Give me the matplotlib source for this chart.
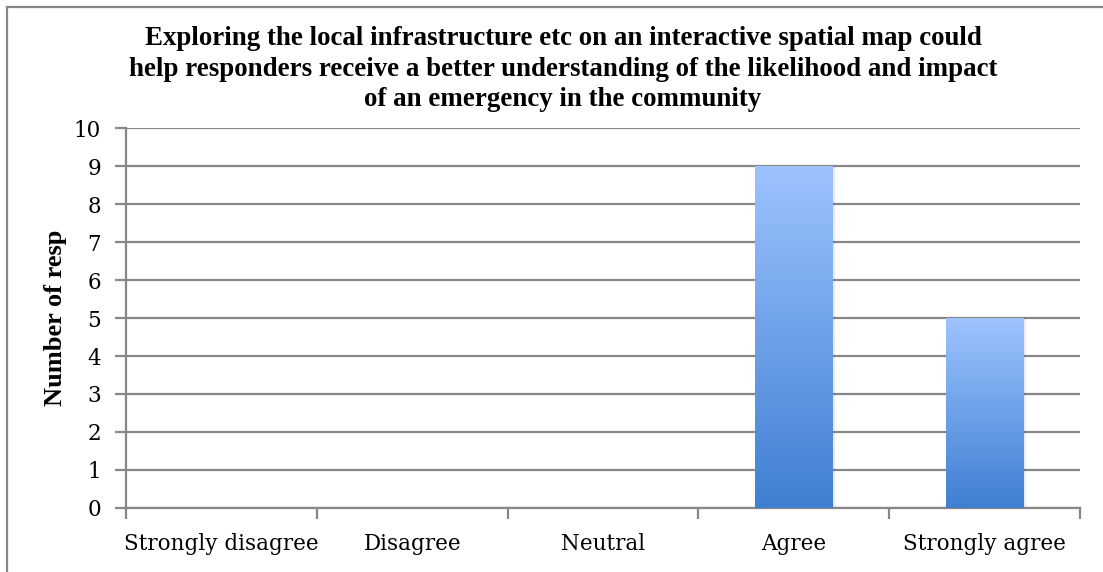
import numpy as np
import matplotlib.pyplot as plt
from matplotlib.colors import LinearSegmentedColormap
from matplotlib.lines import Line2D

categories = ['Strongly disagree', 'Disagree', 'Neutral', 'Agree', 'Strongly agree']
counts = [0, 0, 0, 9, 5]
y_ticks = list(range(0, 11))
title = ('Exploring the local infrastructure etc on an interactive spatial map could\n'
         'help responders receive a better understanding of the likelihood and impact\n'
         'of an emergency in the community')
y_label = 'Number of resp'

plt.rcParams['font.family'] = ['Liberation Serif', 'DejaVu Serif']

fig = plt.figure(figsize=(11.03, 5.72), dpi=100)
ax = fig.add_axes([0.1142, 0.1119, 0.8650, 0.6643])

grid_col = '#878787'
x = np.arange(len(categories))
width = 0.405
tick_font = ['DejaVu Serif']

# gradient fill: light on top, darker at bottom
cmap = LinearSegmentedColormap.from_list('bar', ['#3f7fd2', '#9dc3ff'])
grad = np.linspace(0, 1, 256).reshape(-1, 1)

bars = ax.bar(x, counts, width, color='none', edgecolor='none', zorder=3)
for bar in bars:
    h = bar.get_height()
    if h <= 0:
        continue
    x0 = bar.get_x()
    x1 = x0 + bar.get_width()
    # soft shadow
    ax.bar(bar.get_x() + bar.get_width() / 2 + 0.012, h, bar.get_width(),
           color='#000000', alpha=0.08, zorder=2)
    ax.imshow(grad, cmap=cmap, aspect='auto', origin='lower',
              extent=(x0, x1, 0, h), zorder=3)

ax.set_xlim(-0.5, len(categories) - 0.5)
ax.set_ylim(0, 10)
ax.set_yticks(y_ticks)
ax.set_yticklabels([str(t) for t in y_ticks], fontsize=15.5, family=tick_font)
ax.yaxis.grid(True, color=grid_col, linewidth=1.6, zorder=1)
ax.set_axisbelow(True)

ax.set_xticks(x)
ax.set_xticklabels(categories, fontsize=15.5, family=tick_font)
ax.set_xticks(np.arange(-0.5, len(categories)), minor=True)
ax.tick_params(axis='x', which='major', length=0, pad=18)
ax.tick_params(axis='x', which='minor', length=8, width=1.6, color=grid_col)
ax.tick_params(axis='y', length=8, width=1.6, color=grid_col, pad=10)

for side in ['top', 'right']:
    ax.spines[side].set_visible(False)
for side in ['left', 'bottom']:
    ax.spines[side].set_color(grid_col)
    ax.spines[side].set_linewidth(1.6)

ax.set_ylabel(y_label, fontsize=19, fontweight='bold', labelpad=5)
fig.text(563 / 1103, 1 - 69 / 572, title, ha='center', va='center', fontsize=19.4,
         fontweight='bold', linespacing=1.3)

# chart border (only top and left visible in the crop)
fig.add_artist(Line2D([7 / 1103, 1], [1 - 7 / 572, 1 - 7 / 572],
                      transform=fig.transFigure, color=grid_col, linewidth=1.6))
fig.add_artist(Line2D([7 / 1103, 7 / 1103], [0, 1 - 7 / 572],
                      transform=fig.transFigure, color=grid_col, linewidth=1.6))

plt.savefig('out.png', dpi=100)
